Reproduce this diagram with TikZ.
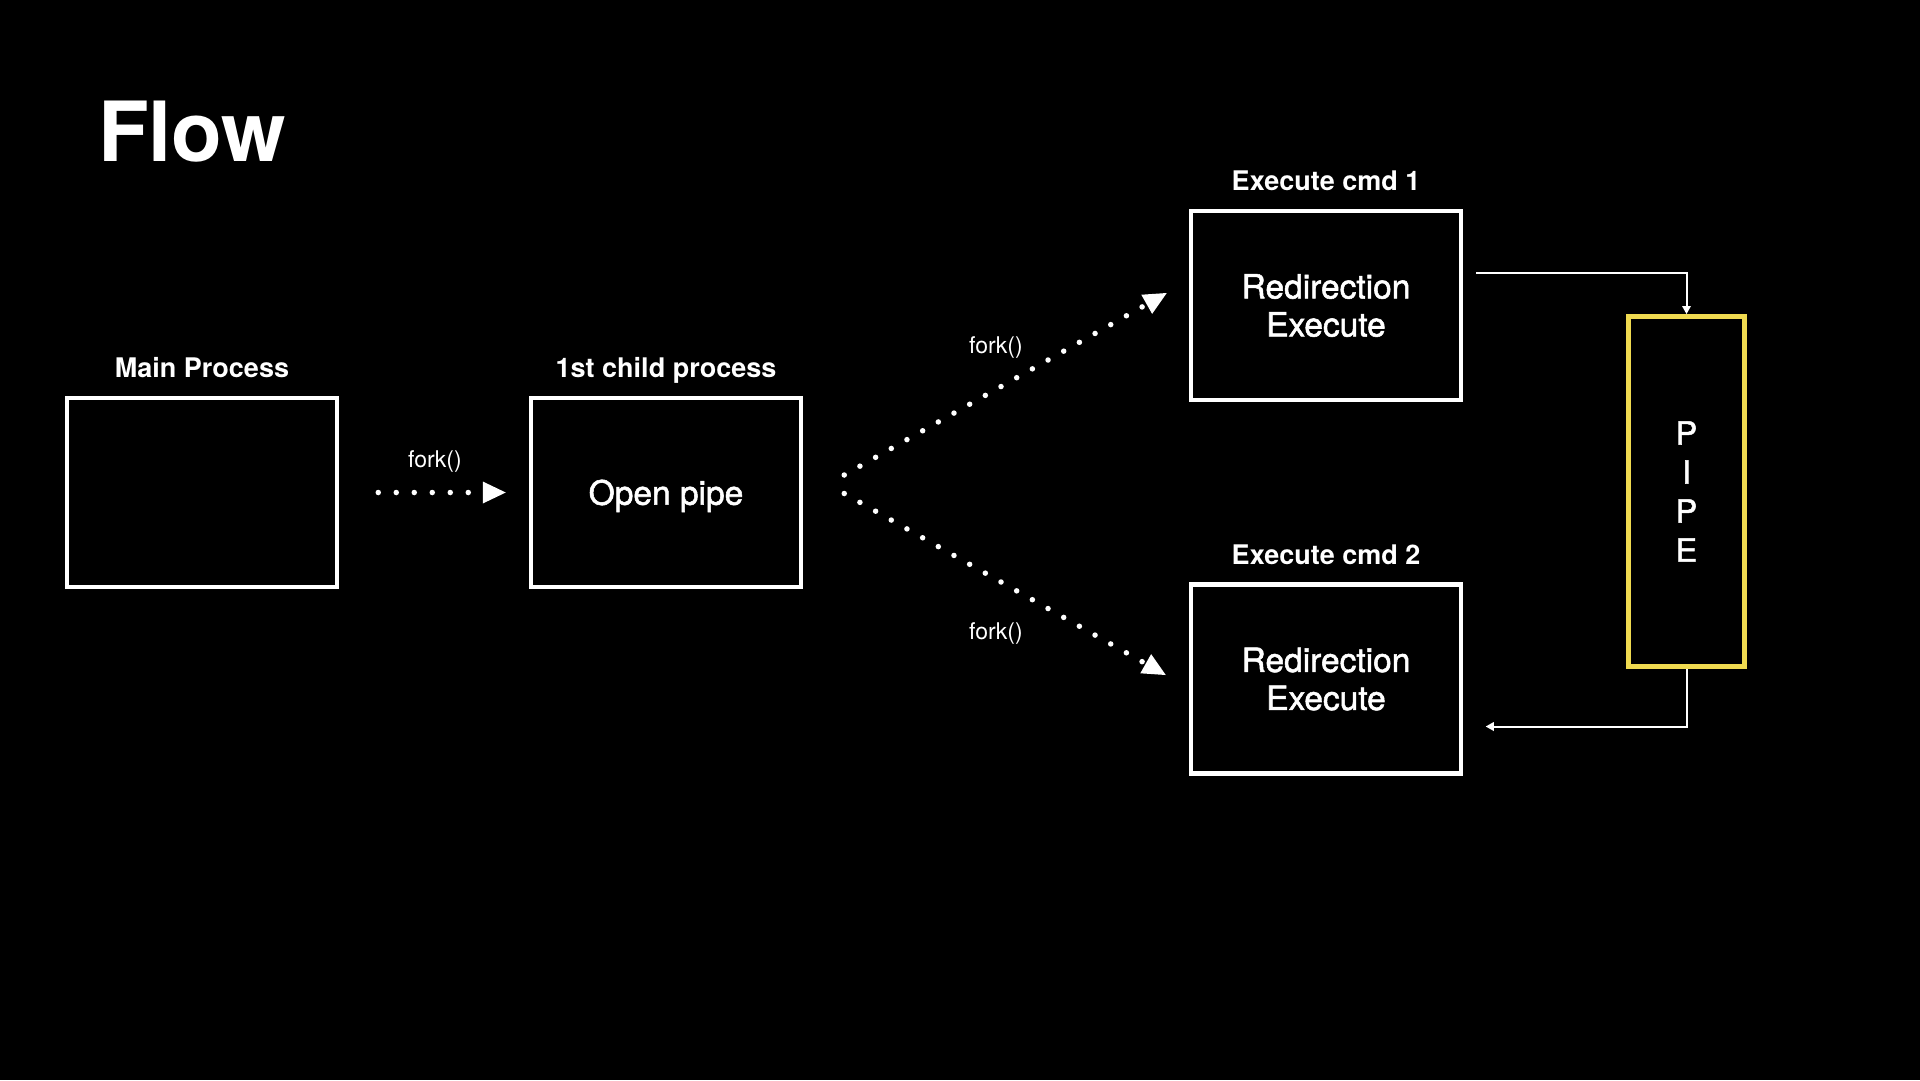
\documentclass[tikz,border=0pt]{standalone}
\usepackage{fontspec}
\setmainfont{TeX Gyre Heros}
\newfontfamily\medfont{TeX Gyre Heros}[FakeBold=1.6]
\usepackage{xcolor}
\usetikzlibrary{arrows.meta, positioning, calc}
\definecolor{pipeyellow}{RGB}{240,218,80}

\tikzset{
  procbox/.style={draw=white, line width=4.5pt, minimum width=270pt, minimum height=189pt,
    text=white, align=center, font=\medfont\fontsize{33.5}{38}\selectfont},
  pipebox/.style={draw=pipeyellow, line width=5pt, minimum width=116pt, minimum height=350pt,
    text=white, align=center, font=\medfont\fontsize{32}{39}\selectfont},
  tag/.style={text=white, font=\bfseries\fontsize{27}{30}\selectfont, inner sep=0pt,
    text height=19pt, text depth=5pt},
  forklbl/.style={text=white, font=\fontsize{23}{26}\selectfont, inner sep=0pt},
  forkarrow/.style={draw=white, line width=5.5pt, line cap=round, dash pattern=on 0pt off 18pt,
    -{Triangle[length=23pt, width=22pt, line width=0pt]}},
  pipearrow/.style={draw=white, line width=2pt, -{Triangle[length=8pt, width=9pt, line width=0pt]}}
}

\begin{document}
\begin{tikzpicture}[x=1pt, y=-1pt]
\fill[black] (0,0) rectangle (1920,1080);
\node[text=white, font=\bfseries\fontsize{83}{90}\selectfont, anchor=base west, inner sep=0pt] (title) at (98,161) {Flow};
% Processes
\node[procbox] (main) at (202,492.5) {};
\node[procbox] (child) at (666,492.5) {\smash{Open pipe}\vphantom{O}};
\node[tag, above=13pt of main] (maintag) {Main Process};
\node[tag, above=13pt of child] (childtag) {1st child process};
% Commands
\node[procbox] (cmd1) at (1326,305.5) {Redirection\\Execute};
\node[procbox] (cmd2) at (1326,679) {Redirection\\Execute};
\node[tag, above=13pt of cmd1] (cmd1tag) {Execute cmd 1};
\node[tag, above=13pt of cmd2] (cmd2tag) {Execute cmd 2};
% Pipe
\node[pipebox] (pipe) at (1686.5,491.5) {P\\I\\P\\E};
% fork() arrows
\draw[forkarrow] ($(main.east)+(39,0)$) -- ($(child.west)+(-23,0)$);
\draw[forkarrow] ($(child.east)+(41,-17.5)$) -- ($(cmd1.west)+(-22,-12.5)$);
\draw[forkarrow] ($(child.east)+(41,1)$) -- ($(cmd2.west)+(-23,-4)$);
\node[forklbl] (fork1) at (435,462) {fork()};
\node[forklbl] (fork2) at (996,348) {fork()};
\node[forklbl] (fork3) at (996,634) {fork()};
% Pipe connections
\draw[pipearrow] ($(cmd1.east)+(13,-32.5)$) -| (pipe.north);
\draw[pipearrow] (pipe.south) |- ($(cmd2.east)+(22.5,47.5)$);
\end{tikzpicture}
\end{document}
